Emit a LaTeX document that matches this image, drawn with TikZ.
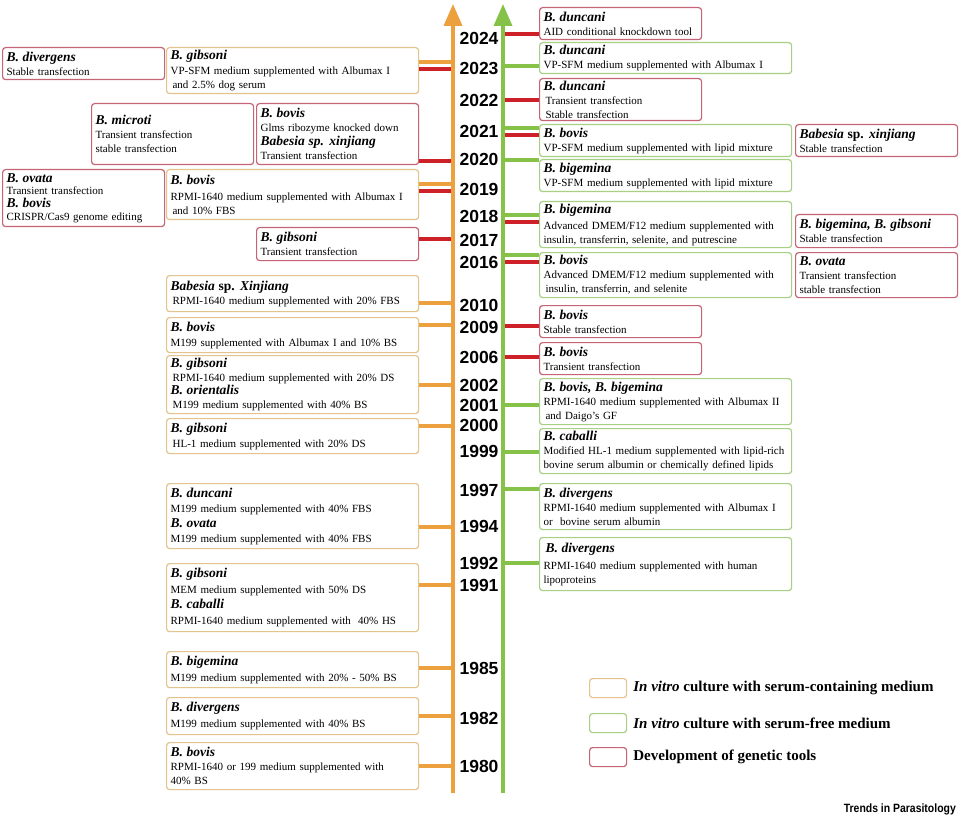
\documentclass[tikz,border=0pt]{standalone}
\usepackage{fontspec}
\usepackage{graphicx}
\setmainfont{Liberation Serif}
\newfontfamily\yearfont{Liberation Sans}
\usepackage{tikz}
\usetikzlibrary{arrows.meta,positioning}

\definecolor{axorange}{RGB}{236,160,62}
\definecolor{axgreen}{RGB}{134,194,72}
\definecolor{genered}{RGB}{206,32,40}
\definecolor{serumedge}{RGB}{226,196,140}
\definecolor{freeedge}{RGB}{168,208,132}
\definecolor{geneedge}{RGB}{196,100,116}

\newcommand{\species}[1]{{\fontsize{13.5}{14}\selectfont\bfseries\itshape #1}}

\begin{document}
\begin{tikzpicture}[x=1pt,y=-1pt,
  tbox/.style={rounded corners=3pt,line width=1.2pt,fill=white,anchor=north west,align=left,
    inner xsep=4pt,inner ysep=2pt,font=\fontsize{11}{14}\selectfont},
  serum box/.style={tbox,draw=serumedge},
  free box/.style={tbox,draw=freeedge},
  gene box/.style={tbox,draw=geneedge},
  long/.style={text width=244pt},
  short/.style={text width=154pt},
  year/.style={inner sep=0pt,font=\yearfont\bfseries\fontsize{17.5}{18}\selectfont},
  oline/.style={draw=axorange,line width=3.5pt},
  gline/.style={draw=axgreen,line width=3.5pt},
  rline/.style={draw=genered,line width=4pt},
  axis line/.style={line width=3.5pt,-{Triangle[width=18pt,length=22pt]}},
  key text/.style={inner sep=0pt,font=\fontsize{15}{15}\selectfont\bfseries}]

  \fill[white] (0,0) rectangle (960,818);
  \useasboundingbox (0,0) rectangle (960,818);

  \node[gene box,short,minimum height=32pt] (dive) at (2,47) {\species{B. divergens}\\Stable transfection};
  \node[serum box,long,minimum height=46pt] (gib23) at (166,47) {\species{B. gibsoni}\\[1pt]VP-SFM medium supplemented with Albumax I\\\hspace{2pt}and 2.5\% dog serum};
  \node[gene box,short,minimum height=61pt] (micr) at (91,103) {\species{B. microti}\\Transient transfection\\stable transfection};
  \node[gene box,short,minimum height=61pt] (bov20) at (256,103) {\species{B. bovis}\\Glms ribozyme knocked down\\\species{Babesia sp. xinjiang}\\Transient transfection};
  \node[gene box,short,minimum height=57pt,font=\fontsize{11}{12.8}\selectfont] (ovbo) at (2,169) {\species{B. ovata}\\Transient transfection\\\species{B. bovis}\\CRISPR/Cas9 genome editing};
  \node[serum box,long,minimum height=50pt] (bov19) at (166,169) {\species{B. bovis}\\[2pt]RPMI-1640 medium supplemented with Albumax I\\\hspace{2pt}and 10\% FBS};
  \node[gene box,short,minimum height=33pt] (gib17) at (256,227) {\species{B. gibsoni}\\Transient transfection};
  \node[serum box,long,minimum height=36pt] (xin10) at (166,275) {\species{Babesia \textup{sp.} Xinjiang}\\\hspace{2pt}RPMI-1640 medium supplemented with 20\% FBS};
  \node[serum box,long,minimum height=35pt] (bov09) at (166,317) {\species{B. bovis}\\[1pt]M199 supplemented with Albumax I and 10\% BS};
  \node[serum box,long,minimum height=58pt,font=\fontsize{11}{13.5}\selectfont] (gib02) at (166,355) {\species{B. gibsoni}\\\hspace{2pt}RPMI-1640 medium supplemented with 20\% DS\\\species{B. orientalis}\\\hspace{2pt}M199 medium supplemented with 40\% BS};
  \node[serum box,long,minimum height=35pt] (gib00) at (166,418) {\species{B. gibsoni}\\[1pt]\hspace{2pt}HL-1 medium supplemented with 20\% DS};
  \node[serum box,long,minimum height=65pt,font=\fontsize{11}{15}\selectfont] (dun94) at (166,483) {\species{B. duncani}\\M199 medium supplemented with 40\% FBS\\\species{B. ovata}\\M199 medium supplemented with 40\% FBS};
  \node[serum box,long,minimum height=68pt,font=\fontsize{11}{15.5}\selectfont] (gib91) at (166,563) {\species{B. gibsoni}\\MEM medium supplemented with 50\% DS\\\species{B. caballi}\\RPMI-1640 medium supplemented with\ \ 40\% HS};
  \node[serum box,long,minimum height=36pt] (big85) at (166,651) {\species{B. bigemina}\\[2pt]M199 medium supplemented with 20\% - 50\% BS};
  \node[serum box,long,minimum height=37pt] (div82) at (166,697) {\species{B. divergens}\\[2pt]M199 medium supplemented with 40\% BS};
  \node[serum box,long,minimum height=47pt] (bov80) at (166,742) {\species{B. bovis}\\RPMI-1640 or 199 medium supplemented with\\40\% BS};

  \node[gene box,short,minimum height=32pt] (dun24) at (539,7) {\species{B. duncani}\\AID conditional knockdown tool};
  \node[free box,long,minimum height=31pt] (dun23) at (539,42) {\species{B. duncani}\\VP-SFM medium supplemented with Albumax I};
  \node[gene box,short,minimum height=42pt] (dun22) at (539,78) {\species{B. duncani}\\\hspace{2pt}Transient transfection\\\hspace{2pt}Stable transfection};
  \node[free box,long,minimum height=32pt] (bov21) at (539,124) {\species{B. bovis}\\VP-SFM medium supplemented with lipid mixture};
  \node[gene box,short,minimum height=32pt] (xin21) at (795,124) {\species{Babesia \textup{sp.} xinjiang}\\Stable transfection};
  \node[free box,long,minimum height=32pt] (big20) at (539,159) {\species{B. bigemina}\\VP-SFM medium supplemented with lipid mixture};
  \node[free box,long,minimum height=46pt] (big18) at (539,201) {\species{B. bigemina}\\[2pt]Advanced DMEM/F12 medium supplemented with\\insulin, transferrin, selenite, and putrescine};
  \node[gene box,short,minimum height=33pt] (bg18) at (795,214) {\species{B. bigemina, B. gibsoni}\\Stable transfection};
  \node[free box,long,minimum height=45pt] (bov16) at (539,252) {\species{B. bovis}\\Advanced DMEM/F12 medium supplemented with\\\hspace{2pt}insulin, transferrin, and selenite};
  \node[gene box,short,minimum height=45pt] (ova16) at (795,252) {\species{B. ovata}\\Transient transfection\\stable transfection};
  \node[gene box,short,minimum height=32pt] (bov09r) at (539,305) {\species{B. bovis}\\Stable transfection};
  \node[gene box,short,minimum height=32pt] (bov06) at (539,342) {\species{B. bovis}\\Transient transfection};
  \node[free box,long,minimum height=46pt] (bb01) at (539,378) {\species{B. bovis, B. bigemina}\\RPMI-1640 medium supplemented with Albumax II\\\hspace{2pt}and Daigo's GF};
  \node[free box,long,minimum height=45pt] (cab99) at (539,428) {\species{B. caballi}\\Modified HL-1 medium supplemented with lipid-rich\\bovine serum albumin or chemically defined lipids};
  \node[free box,long,minimum height=46pt] (div97) at (539,483) {\species{B. divergens}\\RPMI-1640 medium supplemented with Albumax I\\or\ \ bovine serum albumin};
  \node[free box,long,minimum height=53pt] (div92) at (539,537) {\hspace{2pt}\species{B. divergens}\\[3pt]RPMI-1640 medium supplemented with human\\lipoproteins};

  \coordinate (oax) at (453,0);
  \coordinate (gax) at (503,0);
  \coordinate (obot) at (453,793);
  \coordinate (otop) at (453,4);
  \coordinate (gbot) at (503,793);
  \coordinate (gtop) at (503,4);

  \draw[oline] (gib23.east |- 0,62) -- (oax |- 0,62);
  \draw[rline] (gib23.east |- 0,69) -- (oax |- 0,69);
  \draw[rline] (bov20.east |- 0,161) -- (oax |- 0,161);
  \draw[oline] (bov19.east |- 0,184) -- (oax |- 0,184);
  \draw[rline] (bov19.east |- 0,191) -- (oax |- 0,191);
  \draw[rline] (gib17.east |- 0,239) -- (oax |- 0,239);
  \foreach \b/\y in {xin10/303,bov09/325,gib02/385,gib00/426,dun94/527,gib91/585,big85/668,div82/716,bov80/766}
    \draw[oline] (\b.east |- 0,\y) -- (oax |- 0,\y);

  \foreach \b/\y in {dun23/66,bov21/128,big20/160,big18/215,bov16/255,bb01/405,cab99/452,div97/489,div92/563}
    \draw[gline] (gax |- 0,\y) -- (\b.west |- 0,\y);
  \foreach \b/\y in {dun24/34,dun22/100,bov21/135,big18/222,bov16/262,bov09r/326,bov06/357}
    \draw[rline] (gax |- 0,\y) -- (\b.west |- 0,\y);

  \draw[axis line,axorange] (obot) -- (otop);
  \draw[axis line,axgreen] (gbot) -- (gtop);

  \foreach \yr/\y in {2024/38,2023/68,2022/100,2021/131,2020/159,2019/189,2018/216,2017/240,2016/262,2010/305,2009/327,2006/357,2002/385,2001/405,2000/425,1999/451,1997/490,1994/526,1992/563,1991/585,1985/668,1982/718,1980/766}
    \node[year] (y\yr) at (479,\y) {\yr};

  \node[serum box,minimum width=37pt,minimum height=19pt,inner sep=0pt] (kserum) at (589,678) {};
  \node[free box,minimum width=37pt,minimum height=19pt,inner sep=0pt] (kfree) at (589,713) {};
  \node[gene box,minimum width=37pt,minimum height=19pt,inner sep=0pt] (kgene) at (589,747) {};
  \node[key text,right=6pt of kserum] (tserum) {\textit{In vitro} culture with serum-containing medium};
  \node[key text,right=6pt of kfree] (tfree) {\textit{In vitro} culture with serum-free medium};
  \node[key text,right=6pt of kgene] (tgene) {Development of genetic tools};

  \node[anchor=east,inner sep=0pt,font=\yearfont\bfseries\fontsize{12}{12}\selectfont] (journal) at (956,809) {\scalebox{0.87}[1]{Trends in Parasitology}};
\end{tikzpicture}
\end{document}
